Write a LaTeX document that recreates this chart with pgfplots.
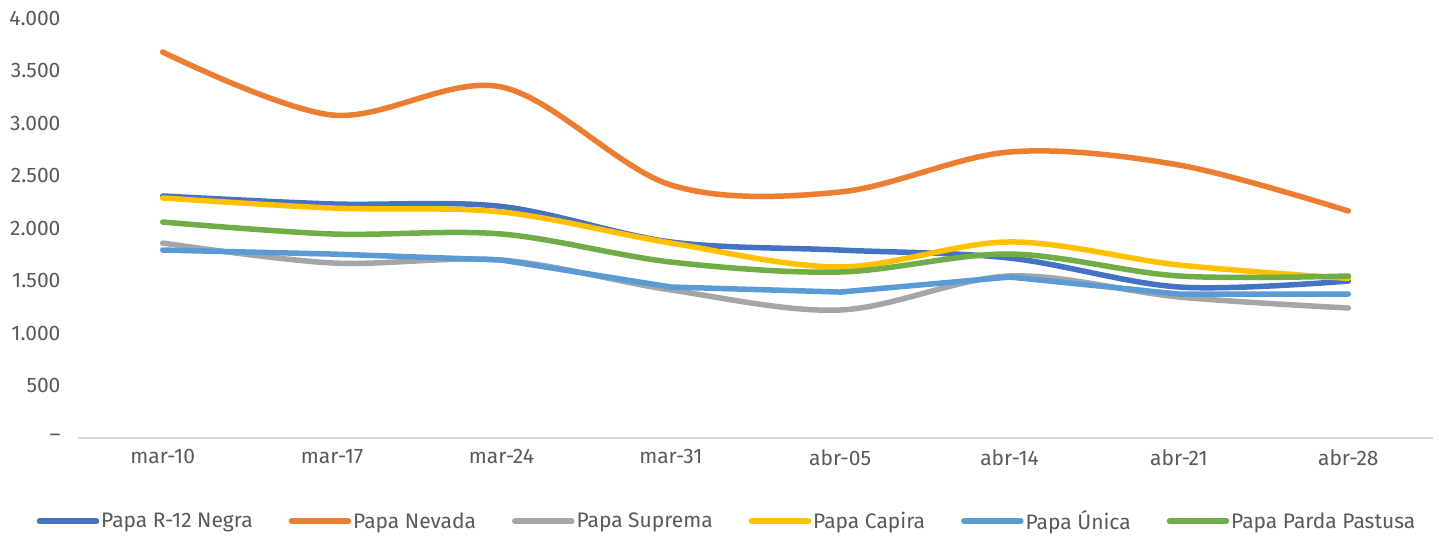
\documentclass[border=0pt]{standalone}
\usepackage{fontspec}
\setmainfont{Fira Sans}
\usepackage{pgfplots}
\pgfplotsset{compat=1.18}

\definecolor{cR}{HTML}{4472C4}
\definecolor{cN}{HTML}{ED7D31}
\definecolor{cS}{HTML}{A5A5A5}
\definecolor{cC}{HTML}{FFC000}
\definecolor{cU}{HTML}{5B9BD5}
\definecolor{cP}{HTML}{70AD47}
\definecolor{txt}{HTML}{595959}
\definecolor{axl}{HTML}{D9D9D9}

\begin{document}
\begin{tikzpicture}
\path[use as bounding box] (-78pt,-97pt) rectangle (1361pt,438pt);
\begin{axis}[
    at={(0,0)}, anchor=south west,
    scale only axis,
    width=1355pt, height=420pt,
    xmin=-0.5, xmax=7.5,
    ymin=0, ymax=4000,
    xtick={0,...,7},
    xticklabels={mar-10,mar-17,mar-24,mar-31,abr-05,abr-14,abr-21,abr-28},
    ytick={0,500,...,4000},
    yticklabels={–,500,1.000,1.500,2.000,2.500,3.000,3.500,4.000},
    axis x line*=bottom,
    axis y line*=left,
    x axis line style={axl, line width=1.5pt, -},
    y axis line style={draw=none},
    major tick length=0pt,
    ticklabel style={font=\fontsize{21}{24}\selectfont, text=txt},
    xticklabel style={yshift=-8pt},
    yticklabel style={xshift=-14pt},
    clip=false,
    legend columns=6,
    legend style={
        draw=none, fill=none,
        at={(0.479,-0.198)}, anchor=center,
        font=\fontsize{21}{24}\selectfont, text=txt,
        /tikz/every even column/.append style={column sep=34pt},
        inner sep=0pt,
    },
    legend image code/.code={\draw[#1, line width=5.5pt, line cap=round] (0pt,0pt) -- (57pt,0pt);},
    every axis plot/.append style={line width=5.5pt, line cap=round, line join=round},
]
\addplot[cR, smooth, tension=0.55] coordinates {(0,2305) (1,2229) (2,2205) (3,1867) (4,1790) (5,1714) (6,1438) (7,1495)};
\addplot[cN, smooth, tension=0.55] coordinates {(0,3676) (1,3076) (2,3343) (3,2410) (4,2343) (5,2724) (6,2600) (7,2162)};
\addplot[cS, smooth, tension=0.55] coordinates {(0,1857) (1,1667) (2,1695) (3,1410) (4,1219) (5,1543) (6,1343) (7,1238)};
\addplot[cC, smooth, tension=0.55] coordinates {(0,2286) (1,2190) (2,2152) (3,1857) (4,1629) (5,1867) (6,1648) (7,1520)};
\addplot[cU] coordinates {(0,1790) (1,1752) (2,1695) (3,1438) (4,1390) (5,1533) (6,1371) (7,1371)};
\addplot[cP, smooth, tension=0.55] coordinates {(0,2057) (1,1943) (2,1943) (3,1676) (4,1581) (5,1752) (6,1543) (7,1543)};
\legend{Papa R-12 Negra, Papa Nevada, Papa Suprema, Papa Capira, Papa Única, Papa Parda Pastusa}
\end{axis}
\end{tikzpicture}
\end{document}
